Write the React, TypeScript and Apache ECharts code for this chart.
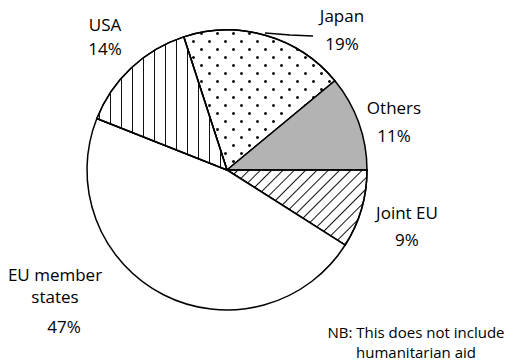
import React, { useEffect, useRef } from "react";
import * as echarts from "echarts";

const categories = ["Japan", "Others", "Joint EU", "EU member states", "USA"];
const shares = [19, 11, 9, 47, 14];
const noteLines = ["NB: This does not include", "humanitarian aid"];

const FONT = "Open Sans";
const FS = 17;

// label anchors: [centerX, topY, lineHeight]
const labelPos: Record<string, [number, number, number]> = {
  Japan: [342, 1, 28.5],
  Others: [394, 94, 27.5],
  "Joint EU": [407, 199, 27],
  "EU member states": [55, 264, 21.5],
  USA: [105, 13, 23.5],
};

const decals: Record<string, any> = {
  Japan: {
    symbol: "circle",
    symbolSize: 1,
    color: "#111",
    backgroundColor: "#fff",
    dashArrayX: [[3, 13], [0, 8, 3, 5]],
    dashArrayY: [3, 5],
  },
  "Joint EU": {
    symbol: "rect",
    symbolSize: 1,
    color: "#111",
    backgroundColor: "#fff",
    dashArrayX: [1, 7],
    dashArrayY: [10, 0],
    rotation: Math.PI / 4,
  },
  USA: {
    symbol: "rect",
    symbolSize: 1,
    color: "#111",
    backgroundColor: "#fff",
    dashArrayX: [1, 10],
    dashArrayY: [10, 0],
  },
};

const fills: Record<string, string> = {
  Japan: "#ffffff",
  Others: "#b3b3b3",
  "Joint EU": "#ffffff",
  "EU member states": "#ffffff",
  USA: "#ffffff",
};

export default function App() {
  const ref = useRef<HTMLDivElement>(null);
  useEffect(() => {
    if (!ref.current) return;
    const chart = echarts.init(ref.current, undefined, { renderer: "svg" });
    const data = categories.map((name, i) => {
      const d = decals[name];
      const isEU = name === "EU member states";
      const lp = labelPos[name];
      return {
        name,
        value: shares[i],
        itemStyle: {
          color: fills[name],
          ...(d ? { decal: d } : {}),
        },
        label: isEU
          ? {
              formatter: (p: any) =>
                `{n|EU member}\n{n|states}\n{p|${p.value}%}`,
              rich: {
                n: { lineHeight: 21.5, fontSize: FS, fontFamily: FONT, color: "#000" },
                p: { lineHeight: 39.5, fontSize: FS, fontFamily: FONT, color: "#000", padding: [0, 0, 0, 18] },
              },
            }
          : { lineHeight: lp[2] },
        labelLine: { show: name === "Japan" },
      };
    });
    chart.setOption({
      animation: false,
      backgroundColor: "#ffffff",
      series: [
        {
          type: "pie",
          center: [227, 170],
          radius: 140,
          startAngle: 108,
          clockwise: true,
          avoidLabelOverlap: false,
          itemStyle: { borderColor: "#000", borderWidth: 1.5 },
          label: {
            show: true,
            position: "outside",
            formatter: (p: any) => `${p.name}\n${p.value}%`,
            fontFamily: FONT,
            fontSize: FS,
            color: "#000",
            align: "center",
          },
          labelLine: {
            show: false,
            lineStyle: { color: "#000", width: 1.3 },
          },
          labelLayout: (params: any) => {
            const name = categories[params.dataIndex];
            const lp = labelPos[name];
            const res: any = {
              x: lp[0],
              y: lp[1],
              align: "center",
              verticalAlign: "top",
            };
            if (name === "Japan") {
              res.labelLinePoints = [
                [265, 33],
                [290, 35],
                [313, 36],
              ];
            }
            return res;
          },
          data,
        },
      ],
      graphic: [
        {
          type: "text",
          x: 416,
          y: 322,
          style: {
            text: noteLines.join("\n"),
            font: `15px "${FONT}"`,
            fill: "#000",
            align: "center",
            lineHeight: 20,
          },
        },
      ],
    });
    return () => chart.dispose();
  }, []);
  return (
    <div
      ref={ref}
      style={{ position: "fixed", left: 0, top: 0, width: 505, height: 363 }}
    />
  );
}
